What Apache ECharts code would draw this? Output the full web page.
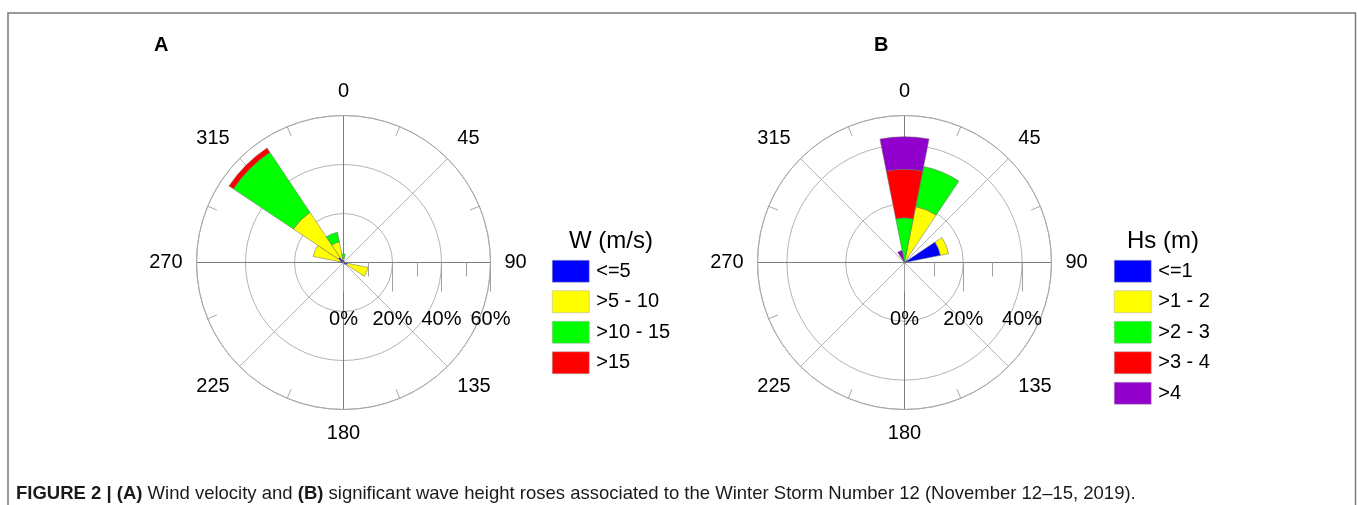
<!DOCTYPE html>
<html><head><meta charset="utf-8">
<script src="https://cdn.jsdelivr.net/npm/echarts@6/dist/echarts.min.js"></script>
<style>html,body{margin:0;padding:0;background:#fff}#c{width:1357px;height:505px}</style>
</head><body><div id="c"></div>
<script>
// Direction sectors (degrees, clockwise from North)
const directions = ['0','22.5','45','67.5','90','112.5','135','157.5','180','202.5','225','247.5','270','292.5','315','337.5'];

// (A) Wind velocity W (m/s): frequency (%) per direction sector
const windClasses = ['<=5', '>5 - 10', '>10 - 15', '>15'];
const windLe5    = [0.8, 0, 0, 0, 0, 1.6, 1.0, 0, 0, 0, 0, 0, 0, 1.4,  2.6, 1.2];
const wind5to10  = [0.8, 0, 0, 0, 0, 8.6, 0,   0, 0, 0, 0, 0, 0, 11.2, 22.0, 7.4];
const wind10to15 = [1.9, 0, 0, 0, 0, 0,   0,   0, 0, 0, 0, 0, 0, 0,    29.5, 4.0];
const windGt15   = [0,   0, 0, 0, 0, 0,   0,   0, 0, 0, 0, 0, 0, 0,    2.1,  0];

// (B) Significant wave height Hs (m): frequency (%) per direction sector
const waveClasses = ['<=1', '>1 - 2', '>2 - 3', '>3 - 4', '>4'];
const waveLe1  = [0,    0,    0, 12.5, 0, 0, 0, 0, 0, 0, 0, 0, 0, 0, 0, 0];
const wave1to2 = [0,    19.4, 0, 2.8,  0, 0, 0, 0, 0, 0, 0, 0, 0, 0, 0, 0];
const wave2to3 = [15.2, 13.9, 0, 0,    0, 0, 0, 0, 0, 0, 0, 0, 0, 0, 0, 0];
const wave3to4 = [16.5, 0,    0, 0,    0, 0, 0, 0, 0, 0, 0, 0, 0, 0, 0, 0];
const waveGt4  = [11.1, 0,    0, 0,    0, 0, 0, 0, 0, 0, 0, 0, 0, 0, 0, 4.2];

// Radial scale (percent) tick values
const windRadialTicks = [0, 20, 40, 60];
const waveRadialTicks = [0, 20, 40];
const waveRadialMax = 50;

const windColors = ['#0000ff', '#ffff00', '#00ff00', '#ff0000'];
const waveColors = ['#0000ff', '#ffff00', '#00ff00', '#ff0000', '#9100cc'];

const FONT = 'Arial, "Liberation Sans", Helvetica, sans-serif';
const R = 147;
const cA = [343.5, 262.5], cB = [904.5, 262.5];

function barAngleAxis(pi) {
  return {
    polarIndex: pi, type: 'category', data: directions, startAngle: 90 + 11.25, clockwise: true,
    boundaryGap: true, z: 1,
    axisLine: { show: true, lineStyle: { color: '#a8a8a8', width: 1 } },
    axisTick: { show: true, interval: 0, alignWithLabel: true, inside: true, length: 10,
                lineStyle: { color: '#a8a8a8', width: 1 } },
    axisLabel: { interval: 1, margin: 14, fontSize: 20, color: '#000', fontFamily: FONT },
    splitLine: { show: true, lineStyle: { width: 1,
      color: ['#7c7c7c', 'rgba(0,0,0,0)', '#b4b4b4', 'rgba(0,0,0,0)'] } }
  };
}
function barRadiusAxis(pi, max) {
  return {
    polarIndex: pi, type: 'value', min: 0, max: max, interval: 20,
    axisLine: { show: false }, axisTick: { show: false }, axisLabel: { show: false },
    splitLine: { show: true, lineStyle: { color: '#b4b4b4', width: 1 } }
  };
}
function scaleAngleAxis(pi) {
  return {
    polarIndex: pi, type: 'value', min: 0, max: 360, startAngle: 0, clockwise: true,
    axisLine: { show: false }, axisTick: { show: false }, axisLabel: { show: false },
    splitLine: { show: false }
  };
}
function scaleRadiusAxis(pi, ticks) {
  return {
    polarIndex: pi, type: 'value', min: ticks[0], max: ticks[ticks.length - 1],
    interval: ticks[1] - ticks[0], z: 3,
    axisLine: { show: false },
    axisTick: { show: true, length: -29, lineStyle: { color: '#a0a0a0', width: 1 } },
    minorTick: { show: true, splitNumber: 2, length: -14, lineStyle: { color: '#a0a0a0', width: 1 } },
    axisLabel: { show: true, margin: -57, verticalAlign: 'middle', align: 'center',
                 formatter: '{value}%', fontSize: 20, color: '#000', fontFamily: FONT },
    splitLine: { show: false }
  };
}
function stackSeries(names, arrays, colors, pi, stack) {
  return names.map((n, i) => ({
    type: 'bar', coordinateSystem: 'polar', polarIndex: pi, name: n, stack: stack,
    data: arrays[i].map(v => (v > 0 ? v : '-')),
    barCategoryGap: '0%',
    itemStyle: { color: colors[i], borderColor: '#666', borderWidth: 0.5 },
    emphasis: { disabled: true }, z: 2
  }));
}
function legend(names, left) {
  return {
    data: names, orient: 'vertical', left: left, top: 260, padding: 0,
    itemWidth: 37, itemHeight: 22, itemGap: 8, icon: 'rect', selectedMode: false,
    itemStyle: { borderColor: '#aaa', borderWidth: 0.5 },
    textStyle: { fontSize: 20, color: '#000', fontFamily: FONT, padding: [0, 0, 0, 2] }
  };
}

const chart = echarts.init(document.getElementById('c'), null, { renderer: 'canvas' });
chart.setOption({
  animation: false,
  backgroundColor: '#fff',
  title: [
    { text: 'A', left: 154, top: 35, padding: 0, textStyle: { fontSize: 20, fontWeight: 'bold', color: '#000', fontFamily: FONT } },
    { text: 'B', left: 874, top: 35, padding: 0, textStyle: { fontSize: 20, fontWeight: 'bold', color: '#000', fontFamily: FONT } },
    { text: 'W (m/s)', left: 569, top: 229, padding: 0, textStyle: { fontSize: 24, fontWeight: 'normal', color: '#000', fontFamily: FONT } },
    { text: 'Hs (m)', left: 1127, top: 229, padding: 0, textStyle: { fontSize: 24, fontWeight: 'normal', color: '#000', fontFamily: FONT } },
    { text: '{b|FIGURE 2 | (A)} Wind velocity and {b|(B)} significant wave height roses associated to the Winter Storm Number 12 (November 12\u201315, 2019).',
      left: 16, top: 484, padding: 0,
      textStyle: { fontSize: 18.5, fontWeight: 'normal', color: '#1a1a1a', fontFamily: FONT,
        rich: { b: { fontSize: 18.5, fontWeight: 'bold', color: '#1a1a1a', fontFamily: FONT } } } }
  ],
  legend: [legend(windClasses, 552), legend(waveClasses, 1114)],
  polar: [
    { center: cA, radius: R },
    { center: cB, radius: R },
    { center: cA, radius: R },
    { center: cB, radius: R * waveRadialTicks[waveRadialTicks.length - 1] / waveRadialMax }
  ],
  angleAxis: [barAngleAxis(0), barAngleAxis(1), scaleAngleAxis(2), scaleAngleAxis(3)],
  radiusAxis: [
    barRadiusAxis(0, windRadialTicks[windRadialTicks.length - 1]),
    barRadiusAxis(1, waveRadialMax),
    scaleRadiusAxis(2, windRadialTicks),
    scaleRadiusAxis(3, waveRadialTicks)
  ],
  graphic: [
    { type: 'rect', shape: { x: 8, y: 13, width: 1347.5, height: 600 }, silent: true,
      style: { fill: 'none', stroke: '#7a7a7a', lineWidth: 1.5 } }
  ],
  series: [].concat(
    stackSeries(windClasses, [windLe5, wind5to10, wind10to15, windGt15], windColors, 0, 'wind'),
    stackSeries(waveClasses, [waveLe1, wave1to2, wave2to3, wave3to4, waveGt4], waveColors, 1, 'wave')
  )
});
</script>
</body></html>
